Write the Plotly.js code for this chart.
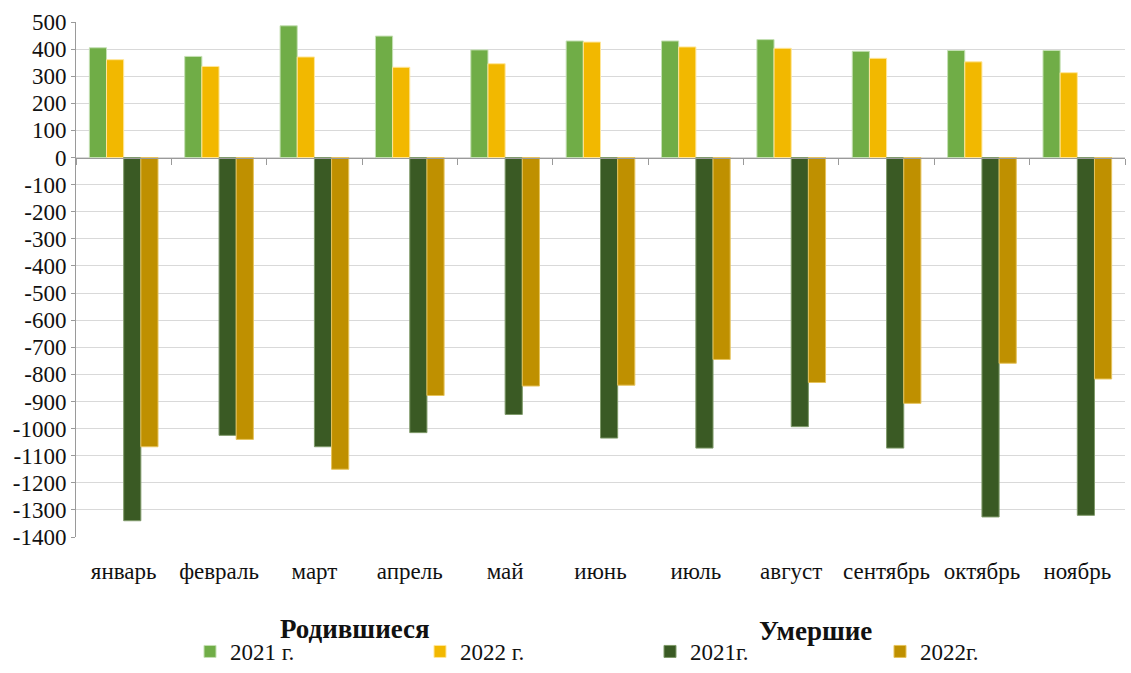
<!DOCTYPE html>
<html><head><meta charset="utf-8">
<script src="https://cdn.plot.ly/plotly-3.0.1.min.js"></script>
<style>body{margin:0;background:#fff;overflow:hidden}#c{width:1131px;height:673px}</style>
</head><body><div id="c"></div>
<script>
const months = ["январь","февраль","март","апрель","май","июнь","июль","август","сентябрь","октябрь","ноябрь"];
const born2021 = [405, 373, 486, 448, 397, 430, 430, 435, 392, 395, 395];
const born2022 = [361, 336, 371, 333, 346, 426, 408, 403, 366, 353, 313];
const died2021 = [-1340, -1025, -1067, -1015, -948, -1035, -1072, -993, -1072, -1326, -1320];
const died2022 = [-1067, -1040, -1150, -878, -843, -840, -745, -830, -907, -759, -817];
const yTicks = [500,400,300,200,100,0,-100,-200,-300,-400,-500,-600,-700,-800,-900,-1000,-1100,-1200,-1300,-1400];

const F = "Liberation Serif, Times New Roman, serif";
function bar(name, y, color, line){
  return {type:'bar', x:months, y:y, name:name, marker:{color:color, line:{color:line, width:1}}};
}
const traces = [
  bar('2021 г.', born2021, '#70AD47', '#C5E0B4'),
  bar('2022 г.', born2022, '#F2B800', '#FFE699'),
  bar('2021г.', died2021, '#3A5A24', '#7F9A6A'),
  bar('2022г.', died2022, '#BF9000', '#E6C35C'),
  {type:'bar', x:months, y:months.map(()=>null), xaxis:'x2', showlegend:false, hoverinfo:'skip'}
];
const layout = {
  width:1131, height:673,
  margin:{l:76, r:6, t:22, b:136},
  paper_bgcolor:'#fff', plot_bgcolor:'#fff',
  barmode:'group', bargap:0.28, bargroupgap:0,
  font:{family:F, size:20, color:'#222'},
  xaxis:{type:'category', showgrid:false, showline:false, zeroline:false, ticks:'', automargin:false,
         tickfont:{family:F, size:23, color:'#111'}, ticklabelstandoff:18},
  xaxis2:{type:'category', overlaying:'x', matches:'x', anchor:'free', position:1400/1900, automargin:false,
          side:'bottom', showticklabels:false, ticks:'outside', tickson:'boundaries',
          ticklen:6, tickcolor:'#9a9a9a', showline:true, linecolor:'#9a9a9a', linewidth:1, showgrid:false},
  yaxis:{range:[-1400,500], tickvals:yTicks, ticktext:yTicks.map(String), showgrid:true, gridcolor:'#d9d9d9', gridwidth:1,
         zeroline:false, showline:true, linecolor:'#9a9a9a', ticks:'outside', ticklen:4, tickcolor:'#9a9a9a', automargin:false,
         tickfont:{family:F, size:23, color:'#111'}},
  showlegend:true,
  legend:{orientation:'h', xref:'container', yref:'container', x:190/1131, xanchor:'left', y:0, yanchor:'bottom',
          entrywidth:185, entrywidthmode:'pixels', font:{family:F, size:23, color:'#111'},
          traceorder:'normal', itemclick:false},
  annotations:[
    {text:'<b>Родившиеся</b>', xref:'paper', yref:'paper', x:(355-76)/1049, y:(537-629)/515, showarrow:false,
     font:{family:F, size:27, color:'#111'}, xanchor:'center', yanchor:'middle'},
    {text:'<b>Умершие</b>', xref:'paper', yref:'paper', x:(815-76)/1049, y:(537-631)/515, showarrow:false,
     font:{family:F, size:27, color:'#111'}, xanchor:'center', yanchor:'middle'}
  ]
};
Plotly.newPlot('c', traces, layout, {displayModeBar:false, staticPlot:true});
</script></body></html>
